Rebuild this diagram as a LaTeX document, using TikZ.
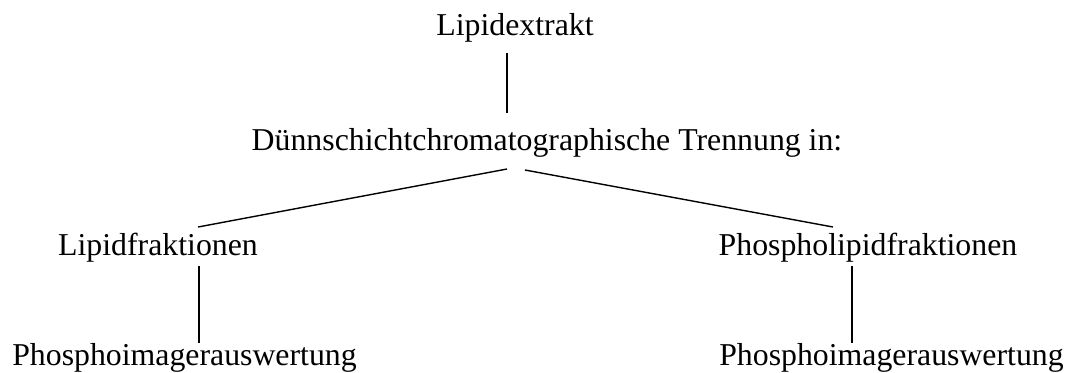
\documentclass[tikz,border=0pt]{standalone}
\usepackage{fontspec}
\setmainfont{Liberation Serif}
\usetikzlibrary{calc}
\tikzset{
  every path/.style={
    black,
    line width=0.7pt
  },
  stufe/.style={
    anchor=base,
    inner sep=0pt,
    outer sep=0pt,
    font=\fontsize{15.9}{19}\selectfont
  }
}
\begin{document}
\begin{tikzpicture}[x=0.5pt,y=-0.5pt]
    \useasboundingbox (0,0) rectangle (1076,372);

    %-------------------------
    % Knoten
    %-------------------------
    \node[stufe] (extrakt) at (515,35) {Lipidextrakt};
    \node[stufe] (trennung) at (547,150) {Dünnschichtchromatographische Trennung in:};
    \node[stufe] (lipid) at (158,255) {Lipidfraktionen};
    \node[stufe] (phospho) at (868,255) {Phospholipidfraktionen};
    \node[stufe] (auswertL) at (184.5,365) {Phosphoimagerauswertung};
    \node[stufe] (auswertR) at (891.5,365) {Phosphoimagerauswertung};

    %-------------------------
    % Linien
    %-------------------------
    \draw ($(extrakt.base)+(-8,18)$) -- ($(trennung.base)+(-40,-37)$);
    \draw ($(trennung.base)+(-40,19)$) -- ($(lipid.base)+(40,-28)$);
    \draw ($(trennung.base)+(-22,20)$) -- ($(phospho.base)+(-35,-28)$);
    \draw ($(lipid.base)+(41,11)$) -- ($(auswertL.base)+(14.5,-22)$);
    \draw ($(phospho.base)+(-16,11)$) -- ($(auswertR.base)+(-39.5,-22)$);
\end{tikzpicture}
\end{document}
